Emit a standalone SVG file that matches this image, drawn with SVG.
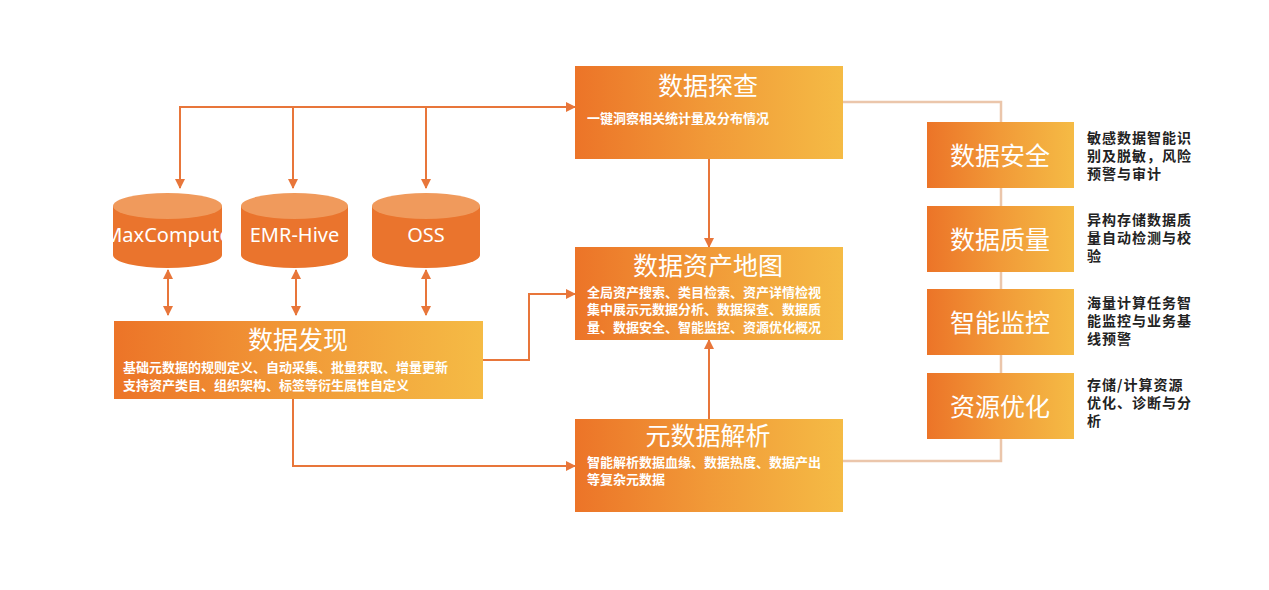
<svg xmlns="http://www.w3.org/2000/svg" width="1269" height="590" viewBox="0 0 1269 590">
<defs>
<linearGradient id="g" x1="0" y1="0" x2="1" y2="0">
<stop offset="0" stop-color="#ec7428"/>
<stop offset="0.5" stop-color="#f19a38"/>
<stop offset="1" stop-color="#f5bb45"/>
</linearGradient>
<marker id="ah" viewBox="0 0 10 10" refX="9" refY="5" markerWidth="5" markerHeight="5" orient="auto-start-reverse">
<path d="M0,0 L10,5 L0,10 z" fill="#e8763a"/>
</marker>
<clipPath id="c1"><rect x="113" y="180" width="109" height="100"/></clipPath>
<style>
.box{fill:url(#g);}
.cyl{fill:#ea742d;}
.cyltop{fill:#f09a5c;}
.t{font-family:"Noto Sans CJK SC","Noto Sans",sans-serif;fill:#fff;}
.title{font-size:25px;text-anchor:middle;}
.sub{font-size:13px;font-weight:bold;}
.rt{font-size:25px;text-anchor:middle;}
.desc{font-family:"Noto Sans CJK SC",sans-serif;font-size:14px;letter-spacing:1px;fill:#222;font-weight:bold;}
.cl{font-family:"Noto Sans","Open Sans",sans-serif;font-size:20px;fill:#fff;text-anchor:middle;}
.ln{fill:none;stroke:#e8763a;stroke-width:2;}
.lt{fill:none;stroke:#ebc6ab;stroke-width:2.5;}
</style>
</defs>
<rect width="1269" height="590" fill="#fff"/>
<g id="connectors">
<path class="lt" d="M843,102 H1001 V461 H843"/>
<path class="ln" d="M180,188 V107 H575" marker-start="url(#ah)" marker-end="url(#ah)"/>
<path class="ln" d="M293,107 V188" marker-end="url(#ah)"/>
<path class="ln" d="M426,107 V188" marker-end="url(#ah)"/>
<path class="ln" d="M168,270 V315" marker-start="url(#ah)" marker-end="url(#ah)"/>
<path class="ln" d="M296,270 V315" marker-start="url(#ah)" marker-end="url(#ah)"/>
<path class="ln" d="M426,270 V315" marker-start="url(#ah)" marker-end="url(#ah)"/>
<path class="ln" d="M483,360 H529 V294 H575" marker-end="url(#ah)"/>
<path class="ln" d="M293,399 V466 H575" marker-end="url(#ah)"/>
<path class="ln" d="M709,159 V247" marker-end="url(#ah)"/>
<path class="ln" d="M709,419 V340" marker-end="url(#ah)"/>
</g>
<g id="maxcompute">
<path class="cyl" d="M113,206 V255 A54.5,13 0 0 0 222,255 V206 z"/>
<ellipse class="cyltop" cx="167.5" cy="206" rx="54.5" ry="13"/>
<text class="cl" x="167.5" y="242" clip-path="url(#c1)">MaxCompute</text>
</g>
<g id="emr-hive">
<path class="cyl" d="M241,206 V255 A53.5,13 0 0 0 348,255 V206 z"/>
<ellipse class="cyltop" cx="294.5" cy="206" rx="53.5" ry="13"/>
<text class="cl" x="294.5" y="242">EMR-Hive</text>
</g>
<g id="oss">
<path class="cyl" d="M372,206 V255 A54,13 0 0 0 480,255 V206 z"/>
<ellipse class="cyltop" cx="426" cy="206" rx="54" ry="13"/>
<text class="cl" x="426" y="242">OSS</text>
</g>
<g id="data-discovery">
<rect class="box" x="114" y="321" width="369" height="78"/>
<text class="t title" x="298" y="349">数据发现</text>
<text class="t sub" x="123" y="372">基础元数据的规则定义、自动采集、批量获取、增量更新</text>
<text class="t sub" x="123" y="390">支持资产类目、组织架构、标签等衍生属性自定义</text>
</g>
<g id="data-explore">
<rect class="box" x="575" y="66" width="268" height="93"/>
<text class="t title" x="708" y="95">数据探查</text>
<text class="t sub" x="587" y="123">一键洞察相关统计量及分布情况</text>
</g>
<g id="asset-map">
<rect class="box" x="575" y="247" width="268" height="93"/>
<text class="t title" x="708" y="275">数据资产地图</text>
<text class="t sub" x="587" y="297">全局资产搜索、类目检索、资产详情检视</text>
<text class="t sub" x="587" y="314">集中展示元数据分析、数据探查、数据质</text>
<text class="t sub" x="587" y="332">量、数据安全、智能监控、资源优化概况</text>
</g>
<g id="metadata-parse">
<rect class="box" x="575" y="419" width="268" height="93"/>
<text class="t title" x="708" y="445">元数据解析</text>
<text class="t sub" x="587" y="467">智能解析数据血缘、数据热度、数据产出</text>
<text class="t sub" x="587" y="484">等复杂元数据</text>
</g>
<g id="data-security">
<rect class="box" x="927" y="122" width="147" height="66"/>
<text class="t rt" x="1000" y="165">数据安全</text>
<text class="desc" x="1087" y="143">敏感数据智能识</text>
<text class="desc" x="1087" y="161">别及脱敏，风险</text>
<text class="desc" x="1087" y="179">预警与审计</text>
</g>
<g id="data-quality">
<rect class="box" x="927" y="206" width="147" height="66"/>
<text class="t rt" x="1000" y="249">数据质量</text>
<text class="desc" x="1087" y="225">异构存储数据质</text>
<text class="desc" x="1087" y="243">量自动检测与校</text>
<text class="desc" x="1087" y="261">验</text>
</g>
<g id="smart-monitor">
<rect class="box" x="927" y="289" width="147" height="66"/>
<text class="t rt" x="1000" y="332">智能监控</text>
<text class="desc" x="1087" y="308">海量计算任务智</text>
<text class="desc" x="1087" y="326">能监控与业务基</text>
<text class="desc" x="1087" y="344">线预警</text>
</g>
<g id="resource-opt">
<rect class="box" x="927" y="373" width="147" height="66"/>
<text class="t rt" x="1000" y="416">资源优化</text>
<text class="desc" x="1087" y="390">存储/计算资源</text>
<text class="desc" x="1087" y="408">优化、诊断与分</text>
<text class="desc" x="1087" y="426">析</text>
</g>
</svg>
